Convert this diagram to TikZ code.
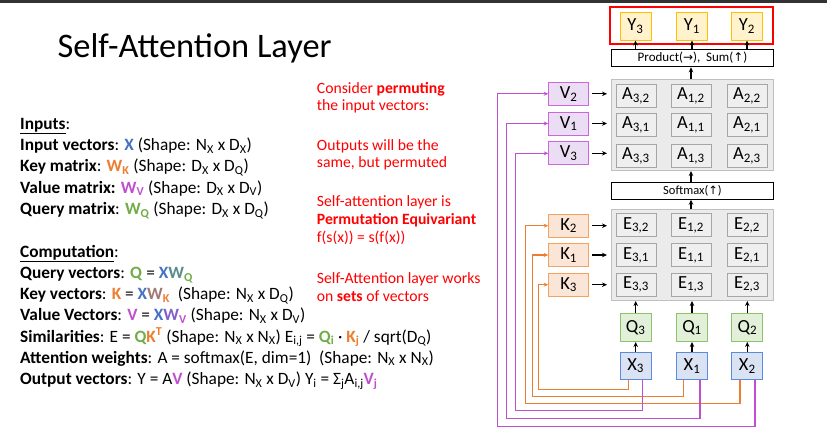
\documentclass[tikz,border=0pt]{standalone}
\usepackage{fontspec}
\setmainfont{Carlito}
\newfontfamily\arrowfont{DejaVu Sans}
\usetikzlibrary{arrows.meta}

\definecolor{cblue}{HTML}{4472C4}
\definecolor{corange}{HTML}{ED7D31}
\definecolor{cpurple}{HTML}{C04FD0}
\definecolor{cgreen}{HTML}{70AD47}
\definecolor{cred}{HTML}{FF0000}
\definecolor{topbar}{HTML}{333333}
\definecolor{yfill}{HTML}{FFF2CC}
\definecolor{ydraw}{HTML}{FFC000}
\definecolor{vfill}{HTML}{EBDDF3}
\definecolor{vdraw}{HTML}{CC66DD}
\definecolor{kfill}{HTML}{FBE5D6}
\definecolor{kdraw}{HTML}{F4A261}
\definecolor{qfill}{HTML}{E2F0D9}
\definecolor{qdraw}{HTML}{8DC46A}
\definecolor{xfill}{HTML}{DAE3F3}
\definecolor{xdraw}{HTML}{5B8BD9}
\definecolor{contfill}{HTML}{EBEBEB}
\definecolor{contdraw}{HTML}{BFBFBF}
\definecolor{cellfill}{HTML}{EFEFEF}
\definecolor{celldraw}{HTML}{A6A6A6}

\newcommand\sbs[1]{\textsubscript{#1}}
\newcommand\sps[1]{\textsuperscript{#1}}

\tikzset{
  base/.style={inner sep=0pt, line width=1pt, font=\fontsize{18.5}{20}\selectfont},
  cellbox/.style={base, draw=celldraw, fill=cellfill, minimum width=40pt, minimum height=23pt},
  contbox/.style={draw=contdraw, fill=contfill, line width=1pt, minimum width=162pt, minimum height=91pt, inner sep=0pt},
  opbox/.style={draw=black, fill=white, line width=1pt, minimum width=162pt, inner sep=0pt},
  ybox/.style={base, draw=ydraw, fill=yfill, minimum width=31pt, minimum height=28pt},
  vbox/.style={base, draw=vdraw, fill=vfill, minimum width=40pt, minimum height=23pt},
  kbox/.style={base, draw=kdraw, fill=kfill, minimum width=40pt, minimum height=23pt},
  qbox/.style={base, draw=qdraw, fill=qfill, minimum width=31pt, minimum height=28pt},
  xbox/.style={base, draw=xdraw, fill=xfill, minimum width=31pt, minimum height=27pt},
  arr/.style={-{Stealth[length=5pt,width=4.5pt]}, line width=1.3pt},
  oline/.style={corange, line width=1.3pt, -{Stealth[length=4.5pt,width=4pt]}},
  pline/.style={cpurple, line width=1.3pt, -{Stealth[length=4.5pt,width=4pt]}},
  body/.style={anchor=base west, inner sep=0pt, font=\fontsize{17.3}{21}\selectfont},
  note/.style={anchor=base west, inner sep=0pt, text=cred, font=\fontsize{15.7}{18}\selectfont},
}

\begin{document}
\begin{tikzpicture}[x=1pt,y=-1pt]
\useasboundingbox (0,0) rectangle (827,437);
\fill[topbar] (0,0) rectangle (827,3);

% title
\node[anchor=base west, inner sep=0pt, font=\fontsize{34.4}{40}\selectfont] (title) at (57.5,57) {Self-Attention Layer};

% inputs
\node[body] (in0) at (20,129.3) {\underline{\textbf{Inputs}}:};
\node[body] (in1) at (20,150.6) {\textbf{Input vectors}: \textcolor{cblue}{\textbf{X}} (Shape: N\sbs{X} x D\sbs{X})};
\node[body] (in2) at (20,171.9) {\textbf{Key matrix}: \textcolor{corange}{\textbf{W\sbs{K}}} (Shape: D\sbs{X} x D\sbs{Q})};
\node[body] (in3) at (20,193.2) {\textbf{Value matrix:} \textcolor{cpurple}{\textbf{W\sbs{V}}} (Shape: D\sbs{X} x D\sbs{V})};
\node[body] (in4) at (20,214.5) {\textbf{Query matrix}: \textcolor{cgreen}{\textbf{W\sbs{Q}}} (Shape: D\sbs{X} x D\sbs{Q})};

% computation
\node[body] (c0) at (20,257.3) {\underline{\textbf{Computation}}:};
\node[body] (c1) at (20,278.5) {\textbf{Query vectors}: \textcolor{cgreen}{\textbf{Q}} = \textbf{\textcolor{cblue}{X}\textcolor{cblue!55!cgreen}{W}\textcolor{cgreen}{\sbs{Q}}}};
\node[body] (c2) at (20,299.7) {\textbf{Key vectors}: \textcolor{corange}{\textbf{K}} = \textbf{\textcolor{cblue}{X}\textcolor{cblue!45!corange}{W}\textcolor{corange}{\sbs{K}}}\ \ (Shape: N\sbs{X} x D\sbs{Q})};
\node[body] (c3) at (20,320.9) {\textbf{Value Vectors}: \textcolor{cpurple}{\textbf{V}} = \textbf{\textcolor{cblue}{X}\textcolor{cblue!50!cpurple}{W}\textcolor{cpurple}{\sbs{V}}} (Shape: N\sbs{X} x D\sbs{V})};
\node[body] (c4) at (20,342.1) {\textbf{Similarities}: E = \textbf{\textcolor{cgreen}{Q}\textcolor{corange}{K\sps{T}}} (Shape: N\sbs{X} x N\sbs{X}) E\sbs{i,j} = \textcolor{cgreen}{\textbf{Q\sbs{i}}} · \textcolor{corange}{\textbf{K\sbs{j}}} / sqrt(D\sbs{Q})};
\node[body] (c5) at (20,363.3) {\textbf{Attention weights}: A = softmax(E, dim=1)\ \ (Shape: N\sbs{X} x N\sbs{X})};
\node[body] (c6) at (20,384.5) {\textbf{Output vectors}: Y = A\textcolor{cpurple}{\textbf{V}} (Shape: N\sbs{X} x D\sbs{V}) Y\sbs{i} = Σ\sbs{j}A\sbs{i,j}\textcolor{cpurple}{\textbf{V\sbs{j}}}};

% remarks
\node[note] (r1) at (316.7,93.3) {Consider \textbf{permuting}};
\node[note] (r2) at (316.7,110.9) {the input vectors:};
\node[note] (r3) at (316.7,150) {Outputs will be the};
\node[note] (r4) at (316.7,167.6) {same, but permuted};
\node[note] (r5) at (316.7,206.7) {Self-attention layer is};
\node[note] (r6) at (316.7,224.5) {\textbf{Permutation Equivariant}};
\node[note] (r7) at (316.7,242.3) {f(s(x)) = s(f(x))};
\node[note] (r8) at (316.7,283.3) {Self-Attention layer works};
\node[note] (r9) at (316.7,301) {on \textbf{sets} of vectors};

% output stage
\node[ybox] (y3) at (635.5,26) {Y\sbs{3}};
\node[ybox] (y1) at (692,26) {Y\sbs{1}};
\node[ybox] (y2) at (747,26) {Y\sbs{2}};
\node[draw=cred, line width=2pt, minimum width=163pt, minimum height=37pt, inner sep=0pt] (outbox) at (691.5,25) {};
\node[opbox, minimum height=17.5pt, font=\fontsize{13}{14}\selectfont] (prod) at (692.5,58) {Product({\arrowfont\fontsize{12}{12}\selectfont →}),\ \ Sum({\arrowfont\fontsize{12}{12}\selectfont ↑})};

% attention weights
\node[contbox] (acont) at (692.5,125) {};
\node[cellbox] (a32) at (636,95.8) {A\sbs{3,2}};
\node[cellbox] (a12) at (691,95.8) {A\sbs{1,2}};
\node[cellbox] (a22) at (747,95.8) {A\sbs{2,2}};
\node[cellbox] (a31) at (636,125) {A\sbs{3,1}};
\node[cellbox] (a11) at (691,125) {A\sbs{1,1}};
\node[cellbox] (a21) at (747,125) {A\sbs{2,1}};
\node[cellbox] (a33) at (636,155.7) {A\sbs{3,3}};
\node[cellbox] (a13) at (691,155.7) {A\sbs{1,3}};
\node[cellbox] (a23) at (747,155.7) {A\sbs{2,3}};

\node[opbox, minimum height=16.5pt, font=\fontsize{12.5}{14}\selectfont] (soft) at (692.5,191) {Softmax({\arrowfont\fontsize{11.5}{12}\selectfont ↑})};

% similarities
\node[contbox] (econt) at (692.5,255) {};
\node[cellbox] (e32) at (636,225.3) {E\sbs{3,2}};
\node[cellbox] (e12) at (691,225.3) {E\sbs{1,2}};
\node[cellbox] (e22) at (747,225.3) {E\sbs{2,2}};
\node[cellbox] (e31) at (636,255.3) {E\sbs{3,1}};
\node[cellbox] (e11) at (691,255.3) {E\sbs{1,1}};
\node[cellbox] (e21) at (747,255.3) {E\sbs{2,1}};
\node[cellbox] (e33) at (636,284.5) {E\sbs{3,3}};
\node[cellbox] (e13) at (691,284.5) {E\sbs{1,3}};
\node[cellbox] (e23) at (747,284.5) {E\sbs{2,3}};

% values and keys
\node[vbox] (v2) at (568.7,93.8) {V\sbs{2}};
\node[vbox] (v1) at (568.7,123.5) {V\sbs{1}};
\node[vbox] (v3) at (568.7,153.3) {V\sbs{3}};
\node[kbox] (k2) at (568.7,225.7) {K\sbs{2}};
\node[kbox] (k1) at (568.7,255) {K\sbs{1}};
\node[kbox] (k3) at (568.7,284.7) {K\sbs{3}};

% queries and inputs
\node[qbox] (q3) at (635.7,327.5) {Q\sbs{3}};
\node[qbox] (q1) at (692,327.5) {Q\sbs{1}};
\node[qbox] (q2) at (747.3,327.5) {Q\sbs{2}};
\node[xbox] (x3) at (635.7,365.8) {X\sbs{3}};
\node[xbox] (x1) at (692,365.8) {X\sbs{1}};
\node[xbox] (x2) at (747.3,365.8) {X\sbs{2}};

% black flow arrows
\foreach \y in {y3,y1,y2}
  \draw[arr] (prod.north -| \y) -- (\y.south);
\draw[arr] (acont.north -| a11) -- (prod.south -| a11);
\draw[arr] (econt.north -| e11) -- (soft.south -| e11);
\draw[arr] (soft.north -| e11) -- (acont.south -| e11);
\foreach \q in {q3,q1,q2}
  \draw[arr] (\q.north) -- (\q.north |- econt.south);
\foreach \x/\q in {x3/q3,x1/q1,x2/q2}
  \draw[arr] (\x.north) -- (\q.south);
\foreach \n in {v2,v1,v3}
  \draw[arr] ([xshift=3pt]\n.east) -- ([xshift=-4pt]\n.east -| acont.west);
\foreach \n in {k2,k1,k3}
  \draw[arr] ([xshift=3pt]\n.east) -- ([xshift=-4pt]\n.east -| econt.west);

% inputs routed to keys
\draw[oline] ([xshift=-7pt]x3.south) -- ++(0,9.7) -| ([xshift=-9.4pt]k3.west) -- (k3.west);
\draw[oline] ([xshift=-8.3pt]x1.south) -- ++(0,16.7) -| ([xshift=-16pt]k1.west) -- (k1.west);
\draw[oline] ([xshift=-7.3pt]x2.south) -- ++(0,23.4) -| ([xshift=-22.7pt]k2.west) -- (k2.west);

% inputs routed to values
\draw[pline] ([xshift=7pt]x3.south) -- ++(0,30.7) -| ([xshift=-32.7pt]v3.west) -- (v3.west);
\draw[pline] ([xshift=8pt]x1.south) -- ++(0,38.4) -| ([xshift=-41.4pt]v1.west) -- (v1.west);
\draw[pline] ([xshift=7.7pt]x2.south) -- ++(0,46.4) -| ([xshift=-50.7pt]v2.west) -- (v2.west);
\end{tikzpicture}
\end{document}
